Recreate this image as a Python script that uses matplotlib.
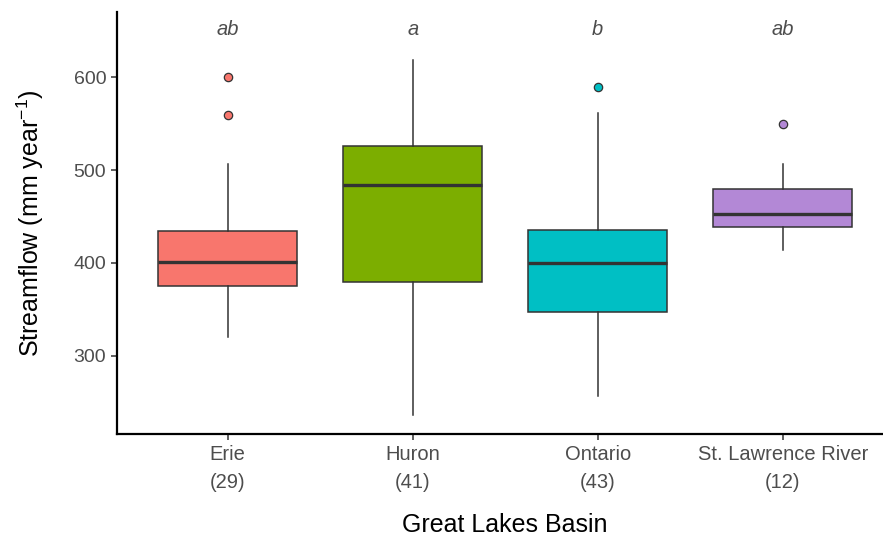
import matplotlib.pyplot as plt

plt.rcParams["font.family"] = ["Liberation Sans", "DejaVu Sans"]
plt.rcParams["mathtext.fontset"] = "custom"
plt.rcParams["mathtext.rm"] = "Liberation Sans"

basins = ["Erie", "Huron", "Ontario", "St. Lawrence River"]
counts = [29, 41, 43, 12]
letters = ["ab", "a", "b", "ab"]
colors = ["#F8766D", "#7CAE00", "#00BFC4", "#B388D6"]

# box stats (mm / year)
whisker_low = [320, 236, 257, 414]
q1 = [375, 379, 347, 439]
median = [401, 484, 400, 453]
q3 = [434, 526, 435, 480]
whisker_high = [507, 619, 561, 507]
outliers = [[559, 600], [], [590], [550]]

letter_y = 651

stats = []
for i, name in enumerate(basins):
    stats.append({
        "label": name,
        "whislo": whisker_low[i], "q1": q1[i], "med": median[i],
        "q3": q3[i], "whishi": whisker_high[i], "fliers": outliers[i],
    })

fig = plt.figure(figsize=(8.83, 5.37), dpi=100)
ax = fig.add_axes([116.7 / 883, 1 - 434 / 537, 777 / 883, 422.3 / 537])

positions = [1, 2, 3, 4]
bp = ax.bxp(stats, positions=positions, widths=0.75, patch_artist=True,
            showcaps=False,
            boxprops=dict(edgecolor="#333333", linewidth=1.1),
            whiskerprops=dict(color="#333333", linewidth=1.1),
            medianprops=dict(color="#333333", linewidth=2.4),
            flierprops=dict(marker="o", markersize=6, markeredgecolor="#333333",
                            markeredgewidth=0.9))
for patch, col in zip(bp["boxes"], colors):
    patch.set_facecolor(col)
for fl, col in zip(bp["fliers"], colors):
    fl.set_markerfacecolor(col)

for x, lab in zip(positions, letters):
    ax.text(x, letter_y, lab, ha="center", va="center", style="italic",
            fontsize=14.5, color="#4d4d4d")

ax.set_xlim(0.4, 4.6)
ax.set_ylim(215.6, 670.7)
ax.set_yticks([300, 400, 500, 600])
ax.set_xticks(positions)
ax.set_xticklabels([f"{b}\n({n})" for b, n in zip(basins, counts)],
                   linespacing=1.6)
ax.tick_params(axis="both", labelsize=14, labelcolor="#4d4d4d", color="#333333",
               length=4, width=1.1)
ax.tick_params(axis="x", labelsize=14.5, pad=4)

for side in ["top", "right"]:
    ax.spines[side].set_visible(False)
for side in ["left", "bottom"]:
    ax.spines[side].set_linewidth(1.6)
    ax.spines[side].set_color("black")

ax.set_ylabel("Streamflow (mm year$^{\u2212 1}$)", fontsize=18)
ax.yaxis.set_label_coords(-(116.7 - 46) / 777, 0.5)
ax.set_xlabel("Great Lakes Basin", fontsize=18, va="center")
ax.xaxis.set_label_coords((505 - 116.7) / 777, -(525 - 434) / 422.3)

fig.savefig("out.png", dpi=100)
